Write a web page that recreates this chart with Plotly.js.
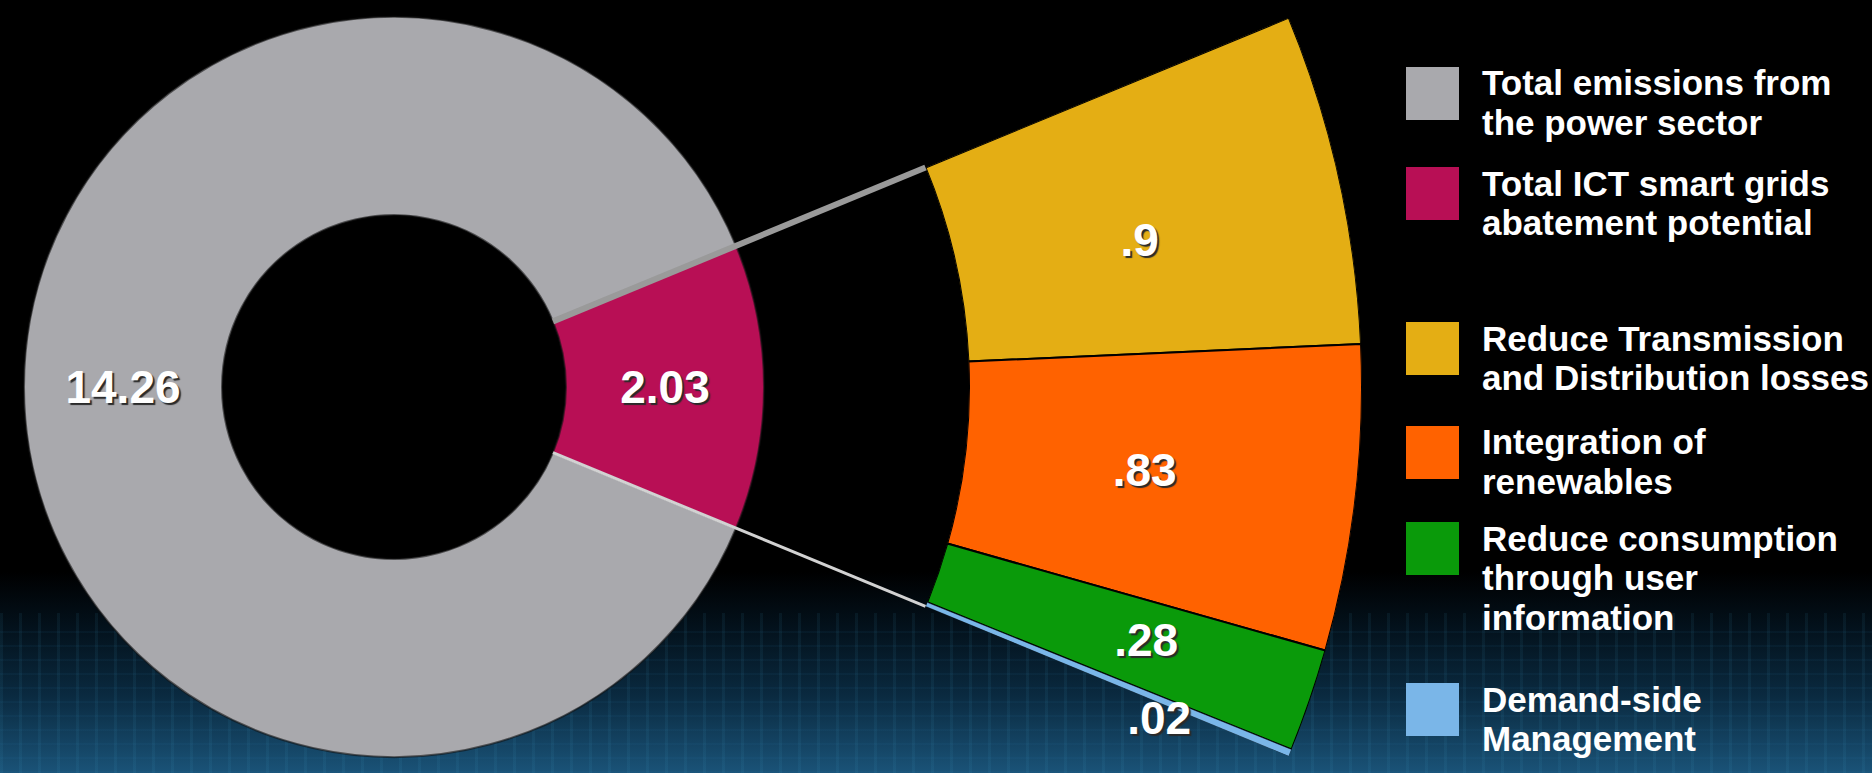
<!DOCTYPE html>
<html>
<head>
<meta charset="utf-8">
<script src="https://cdn.plot.ly/plotly-3.0.1.min.js"></script>
<style>
  html, body { margin: 0; padding: 0; }
  body {
    width: 1872px; height: 773px; overflow: hidden;
    background:
      repeating-linear-gradient(90deg, rgba(70,170,210,0.08) 0px, rgba(70,170,210,0.08) 3px, rgba(0,0,0,0) 3px, rgba(0,0,0,0) 19px),
      repeating-linear-gradient(0deg, rgba(40,120,170,0.07) 0px, rgba(40,120,170,0.07) 2px, rgba(0,0,0,0) 2px, rgba(0,0,0,0) 14px),
      linear-gradient(to bottom, #000 0%, #000 74%, #03111b 81%, #0a2a40 90%, #1a5378 100%);
    background-size: 100% 160px, 100% 150px, 100% 100%;
    background-position: left bottom, left bottom, left top;
    background-repeat: no-repeat, no-repeat, no-repeat;
  }
  #chart { width: 1872px; height: 773px; }
</style>
</head>
<body>
<div id="chart"></div>
<script>
// ---------------- data ----------------
const donutLabels = ['Total emissions from the power sector', 'Total ICT smart grids abatement potential'];
const donutValues = [14.26, 2.03];
const donutColors = ['#a9a9ad', '#b80f55'];

const breakdownLabels = ['Reduce Transmission and Distribution losses', 'Integration of renewables',
                         'Reduce consumption through user information', 'Demand-side Management'];
const breakdownValues = [0.9, 0.83, 0.28, 0.02];
const breakdownColors = ['#e4ae14', '#ff6200', '#0a9a0a', '#7ab6e8'];

const legendLines = [
  ['Total emissions from', 'the power sector'],
  ['Total ICT smart grids', 'abatement potential'],
  ['Reduce Transmission', 'and Distribution losses'],
  ['Integration of', 'renewables'],
  ['Reduce consumption', 'through user', 'information'],
  ['Demand-side', 'Management']
];
const legendColors = donutColors.concat(breakdownColors);

// ---------------- geometry (layout) ----------------
const W = 1872, H = 773;
const CX = 394, CY = 387;          // common centre, px
const R_OUT = 370, R_IN = 172;     // donut radii, px
const R2_IN = 575, R2_OUT = 968;   // breakdown ring radii, px
const px2x = p => p / W;
const py2y = p => 1 - p / H;

const total = donutValues.reduce((a, b) => a + b, 0);
const degPerUnit = 360 / total;
const half = donutValues[1] * degPerUnit / 2;   // half-angle of the abatement slice

// breakdown bars: stacked from the top edge downward
let cum = 0;
const barTheta = [], barWidth = [];
breakdownValues.forEach(v => {
  barTheta.push(half - (cum + v / 2) * degPerUnit);
  barWidth.push(v * degPerUnit);
  cum += v;
});
const barText = breakdownValues.map(v => String(v).replace(/^0/, ''));
const labelR = [0.48, 0.46, 0.56, 0.64];
const labelPos = ['bottom center', 'middle center', 'middle center', 'bottom center'];
const barLineW = [2, 2, 2, 0.5];

const labelFont = {family: 'Liberation Sans, Arial, sans-serif', size: 46, color: '#ffffff',
                   weight: 'bold', shadow: '2px 2px 1px #2a2a2a'};

const traces = [
  {
    type: 'pie',
    values: donutValues,
    labels: donutLabels,
    sort: false,
    direction: 'clockwise',
    rotation: 90 + half,
    hole: R_IN / R_OUT,
    marker: {colors: donutColors, line: {width: 2, color: 'rgba(20,20,20,0.6)'}},
    texttemplate: '%{value}',
    textposition: 'inside',
    insidetextorientation: 'horizontal',
    insidetextfont: labelFont,
    showlegend: false,
    hoverinfo: 'skip',
    domain: {x: [px2x(CX - R_OUT), px2x(CX + R_OUT)], y: [py2y(CY + R_OUT), py2y(CY - R_OUT)]}
  },
  {
    type: 'barpolar',
    subplot: 'polar',
    r: breakdownValues.map(() => 1),
    theta: barTheta,
    width: barWidth,
    marker: {color: breakdownColors, line: {color: '#000', width: barLineW}},
    showlegend: false,
    hoverinfo: 'skip'
  },
  {
    type: 'scatterpolar',
    subplot: 'polar',
    mode: 'text',
    r: labelR,
    theta: barTheta,
    text: barText,
    textposition: labelPos,
    textfont: labelFont,
    cliponaxis: false,
    showlegend: false,
    hoverinfo: 'skip'
  }
];

// connectors from the abatement slice edges to the breakdown ring
const rad = a => a * Math.PI / 180;
const shapes = [];
[[half, '#9a9a9a', 6], [-half, '#d2d2d2', 3]].forEach(([a, col, w]) => {
  shapes.push({
    type: 'line', xref: 'paper', yref: 'paper',
    x0: px2x(CX + R_IN * Math.cos(rad(a))), y0: py2y(CY - R_IN * Math.sin(rad(a))),
    x1: px2x(CX + R2_IN * Math.cos(rad(a))), y1: py2y(CY - R2_IN * Math.sin(rad(a))),
    line: {color: col, width: w}
  });
});

// custom legend
const legendTops = [67, 167, 322, 426, 522, 683];
const SQ = 53, SQX = 1406, TX = 1480, LINE = 39.5;
const annotations = [];
legendLines.forEach((lines, i) => {
  shapes.push({
    type: 'rect', xref: 'paper', yref: 'paper',
    x0: px2x(SQX), x1: px2x(SQX + SQ), y0: py2y(legendTops[i] + SQ), y1: py2y(legendTops[i]),
    fillcolor: legendColors[i], line: {width: 0}
  });
  lines.forEach((t, k) => {
    annotations.push({
      xref: 'paper', yref: 'paper', x: px2x(TX), y: py2y(legendTops[i] + 16 + k * LINE),
      xanchor: 'left', yanchor: 'middle', align: 'left', showarrow: false,
      text: t,
      font: {family: 'Liberation Sans, Arial, sans-serif', size: 35, color: '#ffffff', weight: 'bold'}
    });
  });
});

const layout = {
  width: W, height: H,
  margin: {l: 0, r: 0, t: 0, b: 0},
  paper_bgcolor: 'rgba(0,0,0,0)',
  plot_bgcolor: 'rgba(0,0,0,0)',
  showlegend: false,
  polar: {
    domain: {x: [px2x(CX), px2x(CX + R2_OUT)],
             y: [py2y(CY + R2_OUT * Math.sin(rad(half))), py2y(CY - R2_OUT * Math.sin(rad(half)))]},
    sector: [-half, half],
    hole: R2_IN / R2_OUT,
    bgcolor: 'rgba(0,0,0,0)',
    bargap: 0,
    radialaxis: {range: [0, 1], visible: false},
    angularaxis: {visible: false, rotation: 0, direction: 'counterclockwise'}
  },
  shapes: shapes,
  annotations: annotations
};

Plotly.newPlot('chart', traces, layout, {displayModeBar: false, staticPlot: true});
</script>
</body>
</html>
